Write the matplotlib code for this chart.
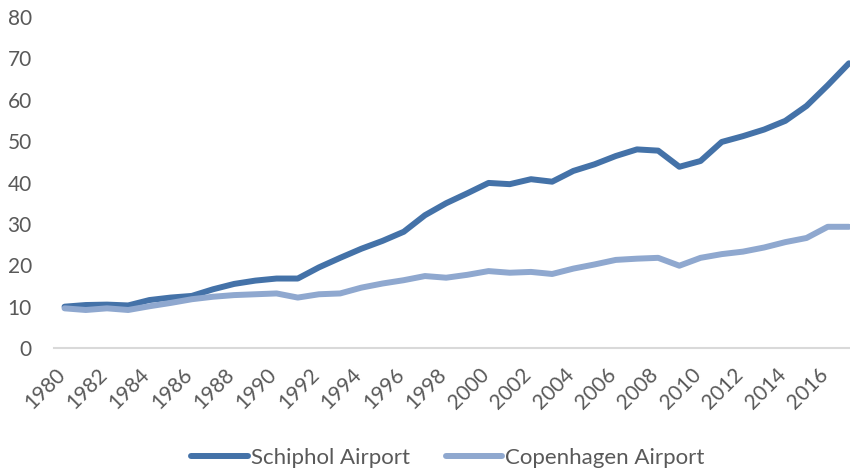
import matplotlib.pyplot as plt
from matplotlib.transforms import ScaledTranslation

years = list(range(1980, 2018))
schiphol = [10.0, 10.4, 10.5, 10.3, 11.6, 12.2, 12.6, 14.2, 15.5, 16.3,
            16.8, 16.8, 19.5, 21.8, 24.0, 25.9, 28.1, 32.1, 35.0, 37.4,
            39.9, 39.6, 40.8, 40.2, 42.8, 44.4, 46.4, 48.0, 47.7, 43.8,
            45.2, 49.8, 51.2, 52.8, 54.9, 58.5, 63.5, 68.8]
copenhagen = [9.6, 9.2, 9.6, 9.2, 10.1, 10.9, 11.8, 12.4, 12.8, 13.0,
              13.2, 12.2, 13.0, 13.2, 14.6, 15.6, 16.4, 17.4, 17.0, 17.7,
              18.6, 18.2, 18.4, 17.9, 19.2, 20.2, 21.3, 21.6, 21.8, 19.9,
              21.8, 22.7, 23.3, 24.3, 25.6, 26.6, 29.3, 29.3]
tick_years = list(range(1980, 2017, 2))
y_ticks = list(range(0, 81, 10))

plt.rcParams['font.family'] = ['Lato', 'DejaVu Sans']

fig = plt.figure(figsize=(8.5, 4.71), dpi=100)
ax = fig.add_axes([0.0635, 0.261, 0.9365, 0.703])

ax.plot(years, schiphol, color='#4472A8', lw=4.3, solid_capstyle='round',
        solid_joinstyle='round', label='Schiphol Airport')
ax.plot(years, copenhagen, color='#8FA8CF', lw=4.3, solid_capstyle='round',
        solid_joinstyle='round', label='Copenhagen Airport')

ax.set_xlim(1979.5, 2017.05)
ax.set_ylim(0, 80)
ax.set_yticks(y_ticks)
ax.set_xticks(tick_years)
ax.set_xticklabels([str(y) for y in tick_years], rotation=45, ha='right',
                   va='center', rotation_mode='anchor')
ax.tick_params(axis='both', length=0, labelsize=15, colors='#595959')
ax.tick_params(axis='x', pad=17)
ax.tick_params(axis='y', pad=16)
shift = ScaledTranslation(-2 / 72, 0, fig.dpi_scale_trans)
for lab in ax.get_xticklabels():
    lab.set_transform(lab.get_transform() + shift)

for s in ['top', 'right', 'left']:
    ax.spines[s].set_visible(False)
ax.spines['bottom'].set_color('#D9D9D9')
ax.spines['bottom'].set_linewidth(1.5)

leg = ax.legend(loc='center', bbox_to_anchor=(0.495, -0.332), ncol=2,
                frameon=False, fontsize=16, handlelength=2.55,
                handletextpad=0.14, columnspacing=1.6)
for line in leg.get_lines():
    line.set_linewidth(4.3)
    line.set_solid_capstyle('round')
for t in leg.get_texts():
    t.set_color('#595959')

fig.savefig('out.png', dpi=100)
